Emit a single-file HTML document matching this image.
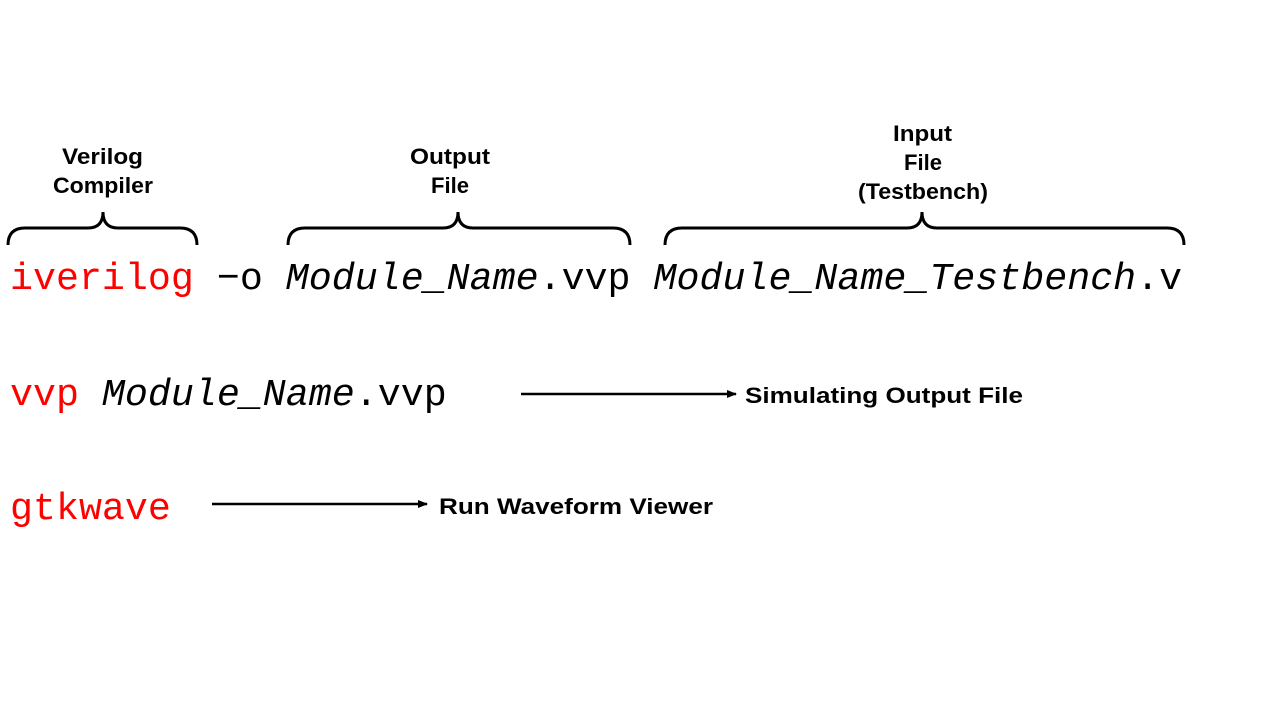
<!DOCTYPE html>
<html><head><meta charset="utf-8"><style>
html,body{margin:0;padding:0;background:#fff;width:1280px;height:720px;overflow:hidden}
svg{display:block}
.m{font-family:"Liberation Mono","DejaVu Sans Mono",monospace;font-size:38.3px}
.l{font-family:"Liberation Sans","DejaVu Sans",sans-serif;font-weight:bold;font-size:22px;fill:#000}
.r{fill:#f00}
</style></head><body>
<svg width="1280" height="720" viewBox="0 0 1280 720" xmlns="http://www.w3.org/2000/svg">
<defs><marker id="a" markerWidth="10" markerHeight="8" refX="9" refY="4" orient="auto" markerUnits="userSpaceOnUse"><path d="M0,0 L10,4 L0,8 Z" fill="#000"/></marker></defs>
<g fill="none" stroke="#000" stroke-width="3">
<path d="M8,245 Q8,228 25,228 L88,228 Q103,228 103,212 Q103,228 118,228 L180,228 Q197,228 197,245"/>
<path d="M288,245 Q288,228 305,228 L443,228 Q458,228 458,212 Q458,228 473,228 L613,228 Q630,228 630,245"/>
<path d="M665,245 Q665,228 682,228 L907,228 Q922,228 922,212 Q922,228 937,228 L1167,228 Q1184,228 1184,245"/>
</g>
<g class="l">
<text x="62" y="164" textLength="81" lengthAdjust="spacingAndGlyphs">Verilog</text>
<text x="53" y="193" textLength="100" lengthAdjust="spacingAndGlyphs">Compiler</text>
<text x="410" y="164" textLength="80" lengthAdjust="spacingAndGlyphs">Output</text>
<text x="431" y="193" textLength="38" lengthAdjust="spacingAndGlyphs">File</text>
<text x="893" y="141" textLength="59" lengthAdjust="spacingAndGlyphs">Input</text>
<text x="904" y="170" textLength="38" lengthAdjust="spacingAndGlyphs">File</text>
<text x="858" y="199" textLength="130" lengthAdjust="spacingAndGlyphs">(Testbench)</text>
</g>
<text class="m" x="10" y="289"><tspan class="r">iverilog</tspan> −o <tspan font-style="italic">Module_Name</tspan>.vvp <tspan font-style="italic">Module_Name_Testbench</tspan>.v</text>
<text class="m" x="10" y="405"><tspan class="r">vvp</tspan> <tspan font-style="italic">Module_Name</tspan>.vvp</text>
<text class="m r" x="10" y="519">gtkwave</text>
<line x1="521" y1="394" x2="736" y2="394" stroke="#000" stroke-width="2.5" marker-end="url(#a)"/>
<line x1="212" y1="504" x2="427" y2="504" stroke="#000" stroke-width="2.5" marker-end="url(#a)"/>
<text class="l" x="745" y="403" textLength="278" lengthAdjust="spacingAndGlyphs">Simulating Output File</text>
<text class="l" x="439" y="514" textLength="274" lengthAdjust="spacingAndGlyphs">Run Waveform Viewer</text>
</svg>
</body></html>
